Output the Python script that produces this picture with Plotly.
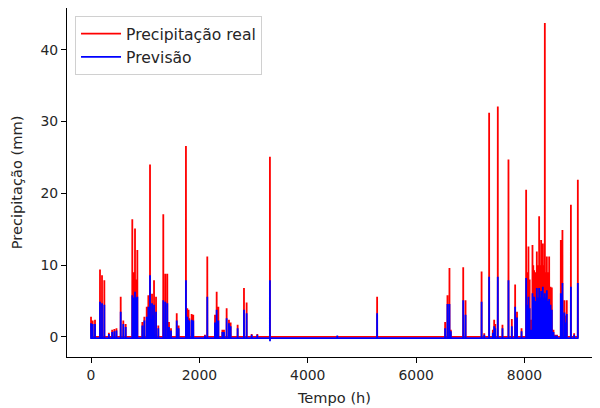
import numpy as np
import plotly.graph_objects as go

event_hour = [
    0, 31, 74, 166, 203, 246, 330, 390, 430, 470, 548, 596, 640,
    762, 790, 812, 835, 855, 947, 984, 1028, 1058, 1089, 1110, 1126, 1145, 1163, 1200, 1242,
    1334, 1371, 1408, 1440, 1476, 1582, 1617,
    1752, 1777, 1800, 1813, 1857, 1887, 2103, 2146,
    2288, 2319, 2350, 2424, 2454, 2503, 2546, 2577, 2706, 2823, 2872, 2965, 3069,
    3302, 4545, 5280,
    6535, 6578, 6615, 6640, 6869, 6912, 7208, 7257, 7347, 7415, 7440, 7460,
    7507, 7593, 7704, 7766, 7827, 7862, 7945,
    8030, 8050, 8073, 8095, 8117, 8147, 8162, 8178, 8200, 8227, 8245, 8270, 8290,
    8307, 8322, 8338, 8357, 8375, 8393, 8412, 8432, 8455, 8480, 8504, 8535, 8570, 8600,
    8670, 8700, 8737, 8760, 8780, 8856, 8916, 8984,
]
real_mm = [
    2.8, 2.3, 2.4, 9.4, 8.6, 7.9, 0.6, 1.0, 1.1, 1.2, 5.6, 2.3, 1.8,
    16.4, 9.0, 15.1, 8.0, 12.1, 2.1, 2.8, 4.2, 5.8, 24.0, 3.5, 6.0, 4.0, 7.9, 5.6, 1.6,
    17.1, 8.8, 8.8, 2.1, 1.2, 3.3, 1.6,
    26.6, 4.0, 3.8, 2.6, 3.2, 3.1, 0.3, 11.2,
    3.1, 6.3, 4.2, 1.0, 1.0, 4.0, 2.4, 2.0, 1.7, 6.8, 4.8, 0.4, 0.4,
    25.1, 0.1, 5.6,
    2.1, 5.8, 9.6, 1.0, 9.7, 5.1, 9.1, 0.5, 31.2, 1.0, 2.4, 1.8,
    32.1, 1.7, 24.7, 2.5, 7.3, 3.5, 1.2,
    20.5, 9.0, 12.6, 8.0, 2.4, 12.8, 10.0, 9.3, 9.0, 11.9, 10.0, 16.8, 10.0,
    13.5, 10.0, 13.0, 10.0, 43.7, 9.0, 11.2, 9.0, 11.2, 7.0, 6.9, 1.0, 0.3, 0.3,
    13.5, 14.9, 5.1, 3.0, 5.1, 18.4, 0.5, 21.9,
]
forecast_mm = [
    1.9, 1.8, 1.8, 4.9, 4.7, 4.5, 0.4, 0.7, 0.8, 0.9, 3.5, 1.8, 1.4,
    5.8, 5.5, 6.3, 5.5, 5.6, 1.6, 2.3, 2.8, 4.2, 8.6, 2.5, 4.7, 3.0, 4.5, 3.5, 1.2,
    5.1, 4.9, 4.7, 1.4, 0.9, 2.3, 1.2,
    7.9, 2.8, 2.4, 2.2, 2.4, 2.3, 0.2, 5.6,
    2.0, 3.8, 2.3, 0.7, 0.7, 2.6, 1.9, 1.5, 1.2, 3.8, 3.3, 0.3, 0.3,
    7.9, 0.2, 3.3,
    1.2, 4.6, 4.6, 0.8, 5.1, 3.1, 4.9, 0.3, 8.4, 0.6, 1.5, 1.2,
    8.4, 1.2, 7.9, 1.5, 4.2, 2.7, 0.8,
    8.2, 4.5, 5.6, 4.0, 1.0, 6.1, 5.0, 5.6, 5.0, 6.8, 5.5, 6.8, 5.5,
    6.4, 6.0, 7.0, 5.5, 6.1, 5.5, 6.5, 5.0, 5.3, 4.5, 3.8, 0.7, 0.2, 0.2,
    6.1, 7.5, 3.4, 2.0, 3.2, 7.0, 0.3, 7.5,
]
dry_forecast = -0.15
n_hours = 8990

hours = np.arange(n_hours)
real = np.zeros(n_hours)
forecast = np.full(n_hours, dry_forecast)
real[event_hour] = real_mm
forecast[event_hour] = forecast_mm
forecast[3303] = -0.6

fig = go.Figure()
fig.add_trace(go.Scatter(x=hours, y=real, mode='lines', name='Precipitação real',
                         line=dict(color='#ff0000', width=1.8, simplify=False)))
fig.add_trace(go.Scatter(x=hours, y=forecast, mode='lines', name='Previsão',
                         line=dict(color='#0000ff', width=1.8, simplify=False)))

# the page body adds an 8px offset, so margins are shifted to compensate
tick_font = dict(family='DejaVu Sans', size=13.9, color='#262626')
title_font = dict(family='DejaVu Sans', size=14.6, color='#262626')
legend_font = dict(family='DejaVu Sans', size=15.6, color='#262626')
fig.update_layout(
    width=600, height=408,
    margin=dict(l=59, r=6, t=0, b=59),
    paper_bgcolor='white', plot_bgcolor='white',
    font=tick_font,
    showlegend=True,
    legend=dict(x=0.015, y=0.977, xanchor='left', yanchor='top',
                bgcolor='rgba(255,255,255,0.8)', bordercolor='#d0d0d0', borderwidth=1,
                font=legend_font, itemwidth=40, tracegroupgap=0),
    xaxis=dict(range=[-443, 9430], tickvals=[0, 2000, 4000, 6000, 8000],
               showgrid=False, zeroline=False, showline=True, linecolor='black',
               linewidth=1, mirror=True, ticks='outside', ticklen=5, tickcolor='black',
               automargin=False, tickfont=tick_font,
               title=dict(text='Tempo (h)', standoff=11, font=title_font)),
    yaxis=dict(range=[-2.79, 45.8], tickvals=[0, 10, 20, 30, 40],
               showgrid=False, zeroline=False, showline=True, linecolor='black',
               linewidth=1, mirror=True, ticks='outside', ticklen=5, tickcolor='black',
               automargin=False, tickfont=tick_font,
               title=dict(text='Precipitação (mm)', standoff=17, font=title_font)),
)

fig.write_html("out.html")
